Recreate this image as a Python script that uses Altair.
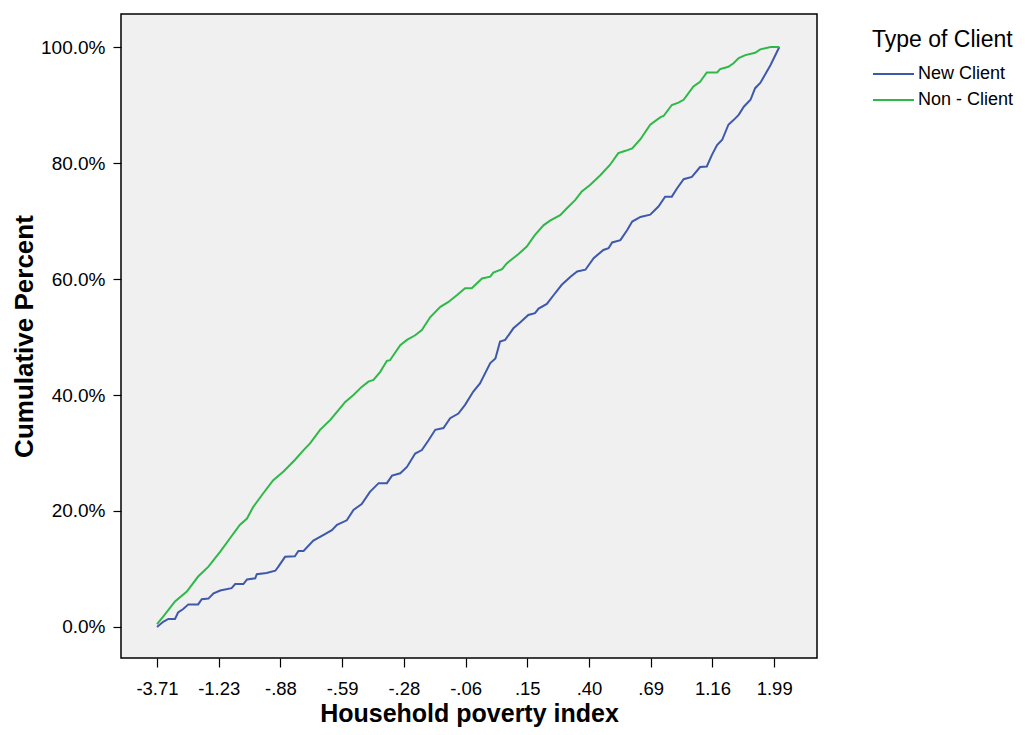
import altair as alt
import pandas as pd

# Category rank positions (ordinal position along the poverty-index axis) and cumulative percents
new_pos = [0, 1.2, 2.2, 3.5, 4.1, 5.1, 6.1, 8.0, 8.7, 10.0,
           11.0, 12.3, 14.5, 15.2, 16.8, 17.5, 19.1, 19.4, 21.3, 23.0,
           23.6, 24.9, 26.8, 27.5, 28.5, 30.4, 32.4, 34.0, 35.0, 36.9,
           38.2, 39.8, 41.4, 43.1, 44.7, 45.7, 47.3, 48.6, 50.2, 51.5,
           52.8, 54.1, 55.7, 57.0, 58.6, 59.9, 61.5, 62.8, 64.8, 65.8,
           66.7, 67.7, 69.3, 70.6, 72.2, 73.5, 74.2, 75.8, 77.1, 78.7,
           80.4, 81.7, 83.3, 84.9, 86.8, 87.8, 88.5, 90.1, 91.4, 92.4,
           94.0, 95.9, 97.5, 98.8, 100.1, 101.1, 102.4, 104.0, 105.6, 106.9,
           107.9, 108.9, 109.9, 111.1, 112.1, 113.1, 114.1, 115.4, 116.3, 117.3,
           119.3, 121]
new_pct = [0, 0.9, 1.4, 1.4, 2.5, 3.1, 3.9, 3.9, 4.8, 4.9,
           5.8, 6.3, 6.7, 7.4, 7.4, 8.2, 8.4, 9.1, 9.3, 9.7,
           10.4, 12.1, 12.2, 13.1, 13.1, 14.9, 15.9, 16.7, 17.6, 18.4,
           20.2, 21.2, 23.3, 24.8, 24.8, 26.1, 26.5, 27.6, 29.9, 30.5,
           32.2, 34.0, 34.3, 36.0, 36.8, 38.3, 40.6, 42.0, 45.5, 46.3,
           49.2, 49.5, 51.5, 52.5, 53.8, 54.1, 54.9, 55.7, 57.2, 59.0,
           60.4, 61.3, 61.6, 63.6, 65.0, 65.3, 66.3, 66.7, 68.4, 69.9,
           70.7, 71.1, 72.5, 74.2, 74.2, 75.6, 77.2, 77.6, 79.3, 79.4,
           81.4, 83.1, 84.0, 86.6, 87.4, 88.3, 89.7, 90.9, 92.9, 93.8,
           96.9, 100.0]

non_pos = [0, 1.2, 3.5, 5.8, 8.0, 10.0, 12.3, 14.2, 16.1, 17.5,
           18.7, 20.7, 22.6, 24.6, 26.8, 28.5, 29.8, 31.7, 33.7, 35.0,
           36.6, 38.2, 39.8, 41.1, 42.1, 43.4, 44.7, 45.3, 47.3, 48.6,
           50.2, 51.5, 53.1, 55.1, 56.6, 58.3, 59.9, 61.2, 63.2, 64.8,
           65.4, 67.1, 68.0, 69.0, 70.3, 71.9, 73.5, 75.2, 76.5, 78.4,
           79.7, 81.3, 82.6, 84.2, 86.2, 88.1, 89.7, 91.1, 92.4, 94.0,
           95.9, 97.9, 98.5, 100.1, 101.4, 102.4, 104.3, 105.6, 106.9, 108.9,
           109.5, 111.1, 112.1, 113.1, 114.4, 116.3, 117.3, 119.3, 121]
non_pct = [0.5, 1.8, 4.4, 6.1, 8.7, 10.4, 13.0, 15.3, 17.6, 18.7,
           20.7, 23.1, 25.3, 26.8, 28.8, 30.5, 31.7, 34.0, 35.7, 37.1,
           38.8, 40.0, 41.4, 42.3, 42.6, 44.0, 45.9, 46.0, 48.6, 49.5,
           50.3, 51.2, 53.4, 55.2, 56.0, 57.2, 58.4, 58.4, 60.1, 60.4,
           61.1, 61.7, 62.7, 63.4, 64.3, 65.6, 67.6, 69.3, 70.1, 71.0,
           72.2, 73.6, 75.1, 76.2, 77.9, 79.7, 81.7, 82.1, 82.5, 84.1,
           86.6, 87.9, 88.1, 90.0, 90.4, 90.9, 93.2, 94.0, 95.6, 95.6,
           96.2, 96.6, 97.2, 98.1, 98.6, 99.0, 99.6, 100.0, 100.0]

series_names = ["New Client", "Non - Client"]
series_colors = ["#3E58AC", "#2EB848"]

tick_positions = [0, 12, 24, 36, 48, 60, 72, 84, 96, 108, 120]
tick_labels = ["-3.71", "-1.23", "-.88", "-.59", "-.28", "-.06", ".15", ".40", ".69", "1.16", "1.99"]
y_ticks = [0, 20, 40, 60, 80, 100]

rows = []
for n, (pos, pct) in zip(series_names, [(new_pos, new_pct), (non_pos, non_pct)]):
    for i, (p, v) in enumerate(zip(pos, pct)):
        rows.append({"pos": p, "pct": v, "Type of Client": n, "order": i})
df = pd.DataFrame(rows)

FONT = "Liberation Sans"
label_expr = "[" + ",".join("'%s'" % t for t in tick_labels) + "][round(datum.value/12)]"

chart = alt.Chart(df).mark_line(strokeWidth=2, interpolate="linear").encode(
    x=alt.X("pos:Q",
            scale=alt.Scale(domain=[-7.0, 128.33], nice=False, zero=False),
            axis=alt.Axis(title="Household poverty index", values=tick_positions,
                          labelExpr=label_expr, grid=False, domain=False,
                          tickSize=9, tickColor="black", tickWidth=1.2,
                          labelPadding=12, labelFontSize=18.5, labelFont=FONT,
                          labelColor="black", titleFont=FONT, titleFontSize=25,
                          titleFontWeight="bold", titleColor="black", titlePadding=4)),
    y=alt.Y("pct:Q",
            scale=alt.Scale(domain=[-5.345, 105.69], nice=False, zero=False),
            axis=alt.Axis(title="Cumulative Percent", values=y_ticks,
                          labelExpr="format(datum.value, '.1f') + '%'",
                          grid=False, domain=False, tickSize=8, tickColor="black",
                          tickWidth=1.2, labelPadding=8, labelFontSize=19,
                          labelFont=FONT, labelColor="black", titleFont=FONT,
                          titleFontSize=26, titleFontWeight="bold",
                          titleColor="black", titlePadding=3)),
    color=alt.Color("Type of Client:N",
                    scale=alt.Scale(domain=series_names, range=series_colors),
                    legend=alt.Legend(orient="none", legendX=751, legendY=15,
                                      symbolType="stroke", symbolSize=1681,
                                      symbolStrokeWidth=2, clipHeight=22,
                                      rowPadding=4, labelOffset=3,
                                      titleFontSize=23, titleFontWeight="normal",
                                      titleFont=FONT, titleColor="black",
                                      labelFontSize=18, labelFont=FONT,
                                      labelColor="black", titlePadding=11,
                                      padding=0)),
    order="order:Q",
).properties(
    width=696, height=644,
    autosize=alt.AutoSizeParams(type="none"),
    padding={"left": 113, "top": 6, "right": 200, "bottom": 69},
).configure(
    background="white"
).configure_view(
    fill="#F0F0F0", stroke="black", strokeWidth=1.5
)

chart.save("out.html", embed_options={"renderer": "svg", "actions": False})
